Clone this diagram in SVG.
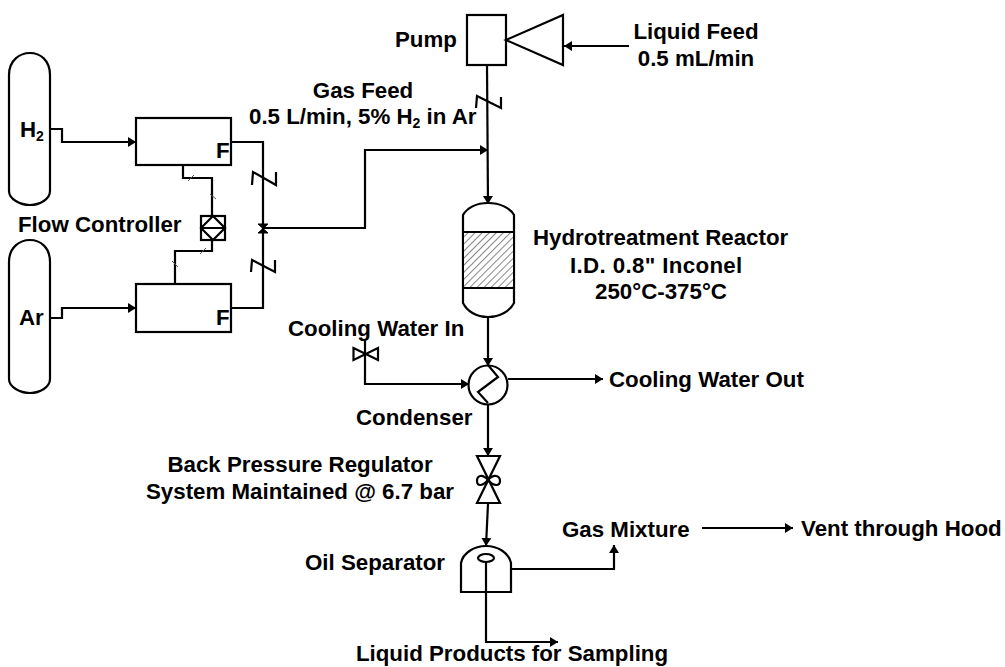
<svg xmlns="http://www.w3.org/2000/svg" width="1005" height="667" viewBox="0 0 1005 667">
<style>
.s{fill:#fff;stroke:#000;stroke-width:2.2}
.n{fill:none;stroke:#000;stroke-width:2.2}
.c{fill:none;stroke:#000;stroke-width:2.2;stroke-linejoin:miter}
.a{marker-end:url(#ah)}
.t{fill:none;stroke:#555;stroke-width:1}
text{font-family:"Liberation Sans",Arial,sans-serif;font-weight:700;font-size:22.3px;fill:#000}
.m{text-anchor:middle}
</style>
<defs>
<marker id="ah" markerUnits="userSpaceOnUse" markerWidth="9" markerHeight="12" refX="8" refY="6" orient="auto"><path d="M0 1L8 6L0 11Z" fill="#000"/></marker>
<pattern id="hatch" patternUnits="userSpaceOnUse" width="5" height="5" patternTransform="rotate(45)"><rect width="5" height="5" fill="#fff"/><line x1="0" y1="0" x2="0" y2="5" stroke="#555" stroke-width="1.4"/></pattern>
</defs>
<rect width="1005" height="667" fill="#fff"/>
<g id="connectors">
<path class="c a" d="M50 129H62V142H136"/>
<path class="c a" d="M50 318H62V308H136"/>
<path class="c" d="M231 142H263V308H231"/>
<path class="c a" d="M263 228H365V150H488"/>
<path class="c" d="M183 165V178H212V216"/>
<path class="c" d="M212 240V251H175V284"/>
<path class="c a" d="M629 46H564"/>
<path class="c a" d="M487 65L488 204"/>
<path class="c a" d="M488 317V366"/>
<path class="c a" d="M365 341V384H469"/>
<path class="c a" d="M508 379H603"/>
<path class="c a" d="M488 404V456"/>
<path class="c a" d="M488 504L486 546"/>
<path class="c a" d="M511 569H614V545"/>
<path class="c a" d="M486 562V642H558"/>
<path class="c a" d="M702 528H793"/>
<path class="n" d="M252 185L253 172L276 185L276 172"/>
<path class="n" d="M251 272L252 260L275 272L275 260"/>
<path class="n" d="M476 108L477 96L501 108L501 97"/>
<path class="t" d="M188 181L194 175M210 194L216 199M200 254L206 248M172 261L178 267"/>
<path d="M258 224H268L258 233H268Z" fill="#000" stroke="#000"/>
</g>
<g id="h2-tank"><path class="s" d="M9 75C9 60 20 53 30 53C40 53 50 60 50 75V191C50 199 40 205 30 205C20 205 9 199 9 191Z"/><text x="20" y="137">H<tspan font-size="14" dy="4">2</tspan></text></g>
<g id="ar-tank"><path class="s" d="M9 262C9 247 20 240 30 240C40 240 50 247 50 262V379C50 387 40 393 30 393C20 393 9 387 9 379Z"/><text x="19" y="325">Ar</text></g>
<g id="fc1"><rect class="s" x="136" y="118" width="95" height="47"/><text x="216" y="158">F</text></g>
<g id="fc2"><rect class="s" x="136" y="284" width="95" height="48"/><text x="216" y="325">F</text></g>
<g id="flow-controller"><rect class="s" x="201" y="216" width="24" height="24"/><path class="n" d="M213 216L225 228L213 240L201 228ZM201 228H225"/><text x="18" y="232">Flow Controller</text></g>
<g id="pump"><rect class="s" x="467" y="15" width="39" height="50"/><path class="s" d="M506 40L563 15V65Z"/><text x="395" y="47">Pump</text></g>
<g id="reactor"><path class="s" d="M463 215C467 208 476 203 488 203C500 203 510 208 514 215V303C510 311 500 317 488 317C476 317 467 311 463 303Z"/><rect x="464" y="232" width="49" height="56" fill="url(#hatch)"/><path class="n" d="M463 232H514M463 288H514"/></g>
<g id="condenser"><circle class="s" cx="488" cy="385" r="19.5"/><path class="n" d="M488 365L498 377L478 392L488 403"/><text x="356" y="425">Condenser</text></g>
<g id="cooling-valve"><path class="s" d="M353.500 348L378 360V348L353.500 360Z"/></g>
<g id="bpr"><path class="s" d="M477 456H500L477 503H500Z"/><path class="n" d="M488 480C482 473 477 476 477 481C477 486 482 487 488 480C494 473 500 476 500 481C500 486 494 487 488 480"/></g>
<g id="separator"><path class="s" d="M461 592V563C463 553 474 546 486 546C498 546 509 553 511 563V592Z"/><ellipse class="s" cx="486" cy="558" rx="8" ry="4"/><path class="n" d="M486 562V592"/></g>
<g id="labels">
<text class="m" x="696" y="39">Liquid Feed</text>
<text class="m" x="696" y="66">0.5 mL/min</text>
<text class="m" x="363" y="98">Gas Feed</text>
<text x="249" y="124">0.5 L/min, 5% H<tspan font-size="14" dy="4">2</tspan><tspan dy="-4"> in Ar</tspan></text>
<text x="533" y="245">Hydrotreatment Reactor</text>
<text x="570" y="273" letter-spacing="0.35">I.D. 0.8" Inconel</text>
<text class="m" x="661" y="299">250°C-375°C</text>
<text x="288" y="336">Cooling Water In</text>
<text x="609" y="387">Cooling Water Out</text>
<text class="m" x="300" y="472">Back Pressure Regulator</text>
<text class="m" x="300" y="499">System Maintained @ 6.7 bar</text>
<text x="305" y="570">Oil Separator</text>
<text x="562" y="537">Gas Mixture</text>
<text x="801" y="536">Vent through Hood</text>
<text class="m" x="512" y="661">Liquid Products for Sampling</text>
</g>
</svg>
